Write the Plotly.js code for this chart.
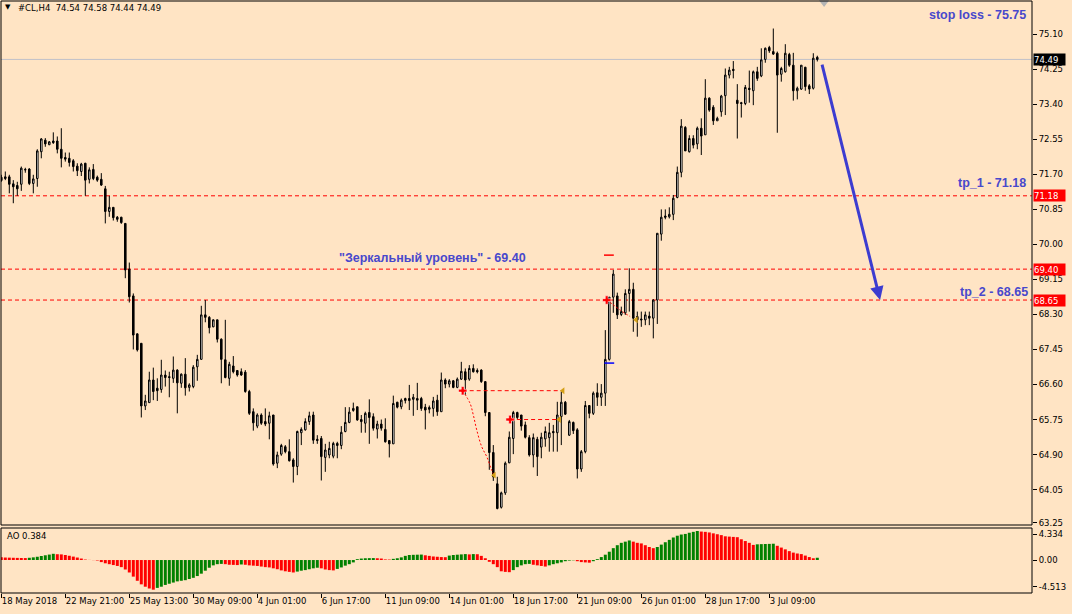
<!DOCTYPE html>
<html><head><meta charset="utf-8">
<script src="https://cdn.plot.ly/plotly-3.0.1.min.js"></script>
<style>html,body{margin:0;padding:0;background:#ffe4c4;}#chart{width:1072px;height:614px;}</style>
</head><body><div id="chart"></div>
<script>
// ---- data (H4 bars of #CL) ----
const openPrices = [71.63,71.64,71.64,71.47,71.43,71.46,71.82,71.83,71.48,71.60,72.25,72.53,72.42,72.51,72.51,72.31,72.11,72.09,72.03,71.90,71.77,71.97,71.58,71.82,71.63,71.58,71.35,70.80,70.90,70.66,70.66,70.51,69.40,68.75,67.83,67.60,66.08,66.16,66.71,66.51,66.48,66.83,66.79,66.75,66.95,66.63,66.85,66.53,66.55,67.03,67.21,68.29,68.23,68.00,68.17,67.70,67.20,66.75,67.05,66.94,66.91,66.90,66.43,65.94,65.59,65.86,65.70,65.66,65.86,64.69,64.91,65.09,64.97,64.77,64.61,65.43,65.50,65.70,65.86,65.27,65.29,64.83,64.89,64.86,65.17,65.12,65.46,65.68,65.97,66.06,65.75,65.66,65.92,65.82,65.52,65.64,65.51,65.24,65.16,66.17,66.06,66.21,66.26,66.24,66.26,66.26,66.05,66.04,66.02,66.22,65.94,66.71,66.61,66.69,66.53,66.73,66.91,66.73,66.99,66.94,66.95,66.67,65.92,64.95,64.19,63.62,63.97,64.70,65.29,65.92,65.86,65.62,65.31,64.89,65.27,65.08,65.28,65.31,65.46,65.43,65.82,66.17,65.37,65.68,65.50,64.55,64.97,66.09,65.90,66.40,66.29,66.39,67.21,68.72,68.75,68.30,68.34,68.81,68.91,68.25,68.19,68.17,68.26,68.21,68.65,70.25,70.69,70.67,70.73,71.14,71.75,72.84,72.25,72.57,72.44,72.82,72.66,73.55,73.33,73.00,73.22,73.61,74.11,74.25,73.50,73.44,73.42,73.79,73.73,74.19,74.09,74.49,74.78,74.68,74.64,74.13,74.19,74.61,74.35,73.73,73.77,74.30,73.85,73.79,74.54];
const highPrices = [71.69,71.77,71.69,71.56,71.52,71.89,71.86,71.85,71.69,72.31,72.58,72.58,72.51,72.72,72.62,72.82,72.23,72.23,72.07,71.97,71.98,71.98,71.87,71.95,71.67,71.73,71.42,71.18,70.90,70.69,70.67,70.51,69.56,68.81,67.84,67.60,66.35,66.91,67.01,66.75,67.20,66.94,66.91,67.28,66.97,66.87,67.24,66.63,67.07,67.32,68.51,68.65,68.26,68.18,68.17,67.72,68.17,67.15,67.29,66.95,66.99,66.95,66.47,66.02,65.90,65.90,66.02,65.94,65.86,64.97,65.16,65.13,65.27,64.81,65.48,65.56,65.78,65.94,65.94,65.37,65.35,65.16,65.21,65.21,65.21,65.59,66.05,66.05,66.16,66.06,65.86,65.94,66.24,65.90,65.72,65.75,65.78,65.24,66.33,66.18,66.26,66.28,66.59,66.37,66.64,66.30,66.13,66.09,66.30,66.35,66.89,66.75,66.73,66.71,66.77,67.15,66.99,67.07,67.09,66.99,66.97,66.67,65.92,65.13,64.36,64.00,64.73,65.46,65.96,65.94,65.86,65.70,65.37,65.41,65.33,65.43,65.58,65.67,65.62,66.18,66.43,66.20,65.74,65.70,65.54,65.01,66.20,66.10,66.43,66.63,66.61,67.92,68.72,69.38,68.83,68.49,68.91,69.42,69.07,68.37,68.37,68.37,68.37,68.67,70.27,70.85,70.85,70.90,71.20,71.89,73.04,72.87,72.65,72.65,72.86,73.06,74.01,73.57,73.38,73.10,73.63,74.27,74.31,74.45,73.89,73.46,73.87,74.22,74.22,74.31,74.76,74.78,74.82,75.24,74.68,74.31,74.86,74.65,74.65,73.83,74.35,74.31,73.89,74.64,74.58];
const lowPrices = [71.52,71.56,71.24,71.00,71.18,71.30,71.74,71.44,71.24,71.40,72.09,72.37,72.41,72.44,72.21,71.87,72.01,71.89,71.77,71.66,71.66,71.18,71.48,71.56,71.52,71.42,70.51,70.67,70.58,70.55,70.50,69.18,68.59,67.45,67.40,65.80,65.98,66.16,66.22,66.20,66.40,66.55,66.29,66.64,65.90,66.52,66.33,66.43,66.51,66.69,67.21,68.11,67.84,67.99,67.62,66.63,66.75,66.57,66.87,66.79,66.81,66.40,65.86,65.48,65.54,65.62,65.59,65.27,64.63,64.57,64.87,64.93,64.73,64.22,64.40,65.13,65.48,65.62,65.16,65.16,64.27,64.48,64.81,64.81,64.81,65.03,65.44,65.66,65.94,65.72,65.43,65.43,65.16,65.48,65.29,65.48,65.19,64.83,65.16,66.02,66.00,66.14,65.98,65.84,65.98,65.96,65.51,65.90,65.82,65.84,65.94,66.51,66.53,66.51,66.51,66.71,66.35,66.69,66.89,66.87,66.64,65.83,64.53,64.26,63.57,63.59,63.92,64.69,64.91,65.75,65.48,65.29,64.85,64.59,64.38,64.81,65.09,64.97,64.97,64.97,65.13,65.86,65.35,65.40,64.32,64.48,64.93,65.78,65.86,66.08,66.08,66.08,67.18,68.34,68.19,68.26,68.29,68.37,67.88,67.76,68.00,68.04,68.04,67.72,68.07,70.09,70.61,70.63,70.59,71.12,71.63,72.27,72.23,72.33,72.31,72.17,72.66,73.22,72.90,73.00,73.10,73.14,74.03,74.03,72.57,73.08,73.38,73.44,73.38,73.97,74.06,74.41,74.65,74.60,72.71,73.95,74.17,74.31,73.49,73.52,73.75,73.73,73.65,73.76,74.44];
const closePrices = [71.55,71.60,71.46,71.40,71.35,71.85,71.81,71.48,71.59,72.27,72.56,72.44,72.49,72.47,72.31,72.09,72.07,71.99,71.89,71.79,71.95,71.56,71.81,71.60,71.56,71.44,70.80,70.90,70.65,70.61,70.53,69.38,68.73,67.80,67.44,66.08,66.20,66.71,66.43,66.45,66.83,66.77,66.77,66.95,66.64,66.85,66.52,66.59,67.02,67.21,68.29,68.23,67.98,68.17,67.70,67.21,66.77,67.09,66.91,66.83,66.83,66.43,65.90,65.67,65.86,65.66,65.64,65.84,64.67,64.89,65.12,64.97,64.75,64.61,65.46,65.51,65.70,65.84,65.25,65.24,64.85,65.01,65.05,65.17,65.12,65.44,65.68,65.93,66.02,65.74,65.70,65.90,65.80,65.54,65.64,65.54,65.21,65.16,66.14,66.05,66.22,66.26,66.21,66.29,66.22,66.02,65.98,66.00,66.20,65.94,66.71,66.61,66.69,66.53,66.73,66.92,66.71,66.99,66.91,66.91,66.67,65.92,64.95,64.36,63.59,63.97,64.69,65.32,65.92,65.80,65.59,65.32,64.89,65.31,64.85,65.32,65.46,65.43,65.43,65.86,66.17,65.88,65.70,65.48,64.55,64.97,66.09,65.90,66.39,66.29,66.39,67.21,68.72,69.28,68.29,68.37,68.81,68.91,68.21,68.17,68.17,68.29,68.21,68.65,70.27,70.66,70.66,70.73,71.12,71.75,72.87,72.27,72.57,72.41,72.82,72.63,73.55,73.26,73.00,73.06,73.60,74.11,74.23,74.22,73.42,73.42,73.81,73.76,74.19,74.03,74.48,74.76,74.70,74.62,74.11,74.27,74.64,74.35,73.73,73.79,74.35,73.83,73.77,74.52,74.49];
const aoValues = [0.45,0.42,0.40,0.38,0.36,0.34,0.33,0.38,0.45,0.55,0.68,0.80,0.92,1.05,0.98,0.95,0.85,0.72,0.58,0.42,0.25,0.08,0.02,-0.02,-0.08,-0.35,-0.55,-0.70,-0.85,-1.00,-1.20,-1.60,-2.10,-2.80,-3.50,-4.10,-4.50,-4.80,-5.00,-4.70,-4.50,-4.20,-4.00,-3.80,-3.60,-3.50,-3.40,-3.20,-3.00,-2.70,-2.30,-1.80,-1.30,-0.90,-0.70,-0.65,-0.70,-0.80,-0.82,-0.85,-0.75,-0.80,-0.90,-0.95,-1.00,-1.10,-1.20,-1.25,-1.40,-1.55,-1.75,-1.90,-2.00,-2.10,-1.95,-1.80,-1.70,-1.55,-1.40,-1.30,-1.40,-1.60,-1.70,-1.75,-1.50,-1.25,-0.95,-0.70,-0.40,0.15,0.25,0.30,0.32,0.33,0.30,0.25,0.10,0.08,0.20,0.30,0.45,0.70,0.85,0.88,0.90,0.92,0.80,0.70,0.60,0.55,0.50,0.48,0.75,0.85,0.90,0.95,1.00,0.95,1.00,0.98,0.70,0.30,-0.30,-0.70,-1.20,-1.90,-2.00,-2.05,-1.70,-1.20,-0.90,-0.70,-0.65,-0.80,-0.90,-1.00,-1.10,-0.90,-0.70,-0.55,-0.40,-0.20,-0.10,-0.05,-0.20,-0.35,-0.40,-0.45,-0.20,0.15,0.50,0.90,1.40,2.00,2.50,2.90,3.10,3.30,3.10,2.90,2.80,2.50,2.20,2.00,2.20,2.60,3.00,3.40,3.80,4.10,4.30,4.40,4.60,4.75,4.90,4.80,4.75,4.65,4.50,4.35,4.20,4.00,3.95,3.90,3.85,3.50,3.20,2.90,2.55,2.65,2.68,2.70,2.72,2.75,2.40,2.10,1.80,1.50,1.25,1.10,1.00,0.75,0.50,0.30,0.384];
const barIndex = openPrices.map((_, i) => i);

const timeTickBars = [0,16,32,48,64,80,96,112,128,144,160,176,192];
const timeTickLabels = ['18 May 2018','22 May 21:00','25 May 13:00','30 May 09:00','4 Jun 01:00','6 Jun 17:00','11 Jun 09:00','14 Jun 01:00','18 Jun 17:00','21 Jun 09:00','26 Jun 01:00','28 Jun 17:00','3 Jul 09:00'];
const priceTicks = [63.25,64.05,64.90,65.75,66.60,67.45,68.30,69.15,70.00,70.85,71.70,72.55,73.40,74.25,75.10];
const aoTicks = [4.334,0,-4.513];
const aoTickLabels = ['4.334','0.00','-4.513'];

const currentPrice = 74.49;
const levelPrices = [71.18, 69.40, 68.65];
const stopLoss = 75.75;
const mirrorLevel = 69.40;
const tp1 = 71.18, tp2 = 68.65;

// pattern drawings (bar index / price)
const patternLineA_x = [115.35, 140.4], patternLineA_y = [66.45, 66.45];
const patternCurveA_x = [115.35,117.2,118.0,118.85,120.1,121.35,122.6,123.2];
const patternCurveA_y = [66.45,66.14,65.86,65.50,65.09,64.85,64.52,64.40];
const patternLineB_x = [127.2, 139.5], patternLineB_y = [65.75, 65.75];
const patternCurveB_x = [151.35,152.8,154.8,157.2];
const patternCurveB_y = [68.65,68.55,68.40,68.25];
const startMarks_x = [115.35,127.2,151.35], startMarks_y = [66.45,65.75,68.65];
const endMarks_x = [140.4,139.5,123.2,158.7], endMarks_y = [66.45,65.75,64.40,68.17];
const arrowFrom = {bar: 205.1, price: 74.40};
const arrowTo = {bar: 219.7, price: 68.65};

// ---- layout geometry ----
const W = 1072, H = 614, mL = 1, mR = 40, mT = 1, mB = 21;
const plotH = H - mT - mB;
const mainBottomPx = 525, aoTopPx = 528;
const mainDomain = [(H - mB - mainBottomPx) / plotH, 1];
const aoDomain = [0, (H - mB - aoTopPx) / plotH];
const pxToPaperY = py => (H - mB - py) / plotH;
const pxToPaperX = px => (px - mL) / (W - mL - mR);

const FONT = 'DejaVu Sans, sans-serif';
const FS = 8.5;
const TXT = {family: 'Liberation Sans, Arial, sans-serif', size: 12.5, color: '#4848cc', weight: 'bold'};

const aoColors = aoValues.map((v, i) => (i > 0 && v > aoValues[i - 1]) ? '#008000' : '#ff0000');

const traces = [
  {type: 'candlestick', x: barIndex, open: openPrices, high: highPrices, low: lowPrices, close: closePrices,
   xaxis: 'x', yaxis: 'y', whiskerwidth: 0, hoverinfo: 'skip', showlegend: false,
   increasing: {line: {color: '#000000', width: 1}, fillcolor: '#ffffff'},
   decreasing: {line: {color: '#000000', width: 1}, fillcolor: '#000000'}},
  {type: 'bar', x: barIndex, y: aoValues, xaxis: 'x', yaxis: 'y2', marker: {color: aoColors, line: {width: 0}},
   hoverinfo: 'skip', showlegend: false},
  {type: 'scatter', mode: 'lines', x: patternLineA_x, y: patternLineA_y, line: {color: '#ff0000', width: 1, dash: '4px,3px'}, hoverinfo: 'skip', showlegend: false},
  {type: 'scatter', mode: 'lines', x: patternLineB_x, y: patternLineB_y, line: {color: '#ff0000', width: 1, dash: '4px,3px'}, hoverinfo: 'skip', showlegend: false},
  {type: 'scatter', mode: 'lines', x: patternCurveA_x, y: patternCurveA_y, line: {color: '#ff0000', width: 1, dash: '2px,2px', shape: 'spline'}, hoverinfo: 'skip', showlegend: false},
  {type: 'scatter', mode: 'lines', x: patternCurveB_x, y: patternCurveB_y, line: {color: '#ff0000', width: 1, dash: '2px,2px', shape: 'spline'}, hoverinfo: 'skip', showlegend: false},
  {type: 'scatter', mode: 'markers', x: startMarks_x, y: startMarks_y, marker: {symbol: 'cross', size: 7, color: '#ff0000', line: {color: '#ffffff', width: 0.5}}, hoverinfo: 'skip', showlegend: false},
  {type: 'scatter', mode: 'markers', x: endMarks_x, y: endMarks_y, marker: {symbol: 'triangle-left', size: 6, color: '#d4a017'}, hoverinfo: 'skip', showlegend: false},
  {type: 'scatter', mode: 'markers', x: [151.9], y: [69.74], marker: {symbol: 'line-ew', size: 7, line: {color: '#ff0000', width: 1.5}}, hoverinfo: 'skip', showlegend: false},
  {type: 'scatter', mode: 'markers', x: [152.0], y: [67.12], marker: {symbol: 'line-ew', size: 7, line: {color: '#0000ff', width: 1.5}}, hoverinfo: 'skip', showlegend: false},
  {type: 'scatter', mode: 'markers', x: [205.7], y: [75.87], marker: {symbol: 'triangle-down', size: 9, color: '#b4b4b4'}, cliponaxis: false, hoverinfo: 'skip', showlegend: false}
];

const shapes = [];
levelPrices.forEach(p => shapes.push({type: 'line', xref: 'paper', x0: 0, x1: 1, yref: 'y', y0: p, y1: p,
  line: {color: '#ff0000', width: 1, dash: '4px,3px'}, layer: 'below'}));
shapes.push({type: 'line', xref: 'paper', x0: 0, x1: 1, yref: 'y', y0: currentPrice, y1: currentPrice,
  line: {color: '#c0c0c8', width: 1}, layer: 'below'});
shapes.push({type: 'rect', xref: 'paper', yref: 'paper', x0: 0, x1: 1, y0: mainDomain[0], y1: 1, line: {color: '#000', width: 1}});
shapes.push({type: 'rect', xref: 'paper', yref: 'paper', x0: 0, x1: 1, y0: 0, y1: aoDomain[1], line: {color: '#000', width: 1}});

const axisBox = (price, bg) => ({xref: 'paper', x: 1, xanchor: 'left', xshift: 1, yref: 'y', y: price, yanchor: 'middle',
  text: price.toFixed(2), showarrow: false, bgcolor: bg, width: 31, height: 11, align: 'left', borderpad: 0,
  font: {family: FONT, size: FS, color: '#ffffff'}});

const annotations = [
  {xref: 'paper', yref: 'paper', x: pxToPaperX(8), y: pxToPaperY(7.5), text: '▼', showarrow: false, xanchor: 'center', yanchor: 'middle', font: {family: FONT, size: 7, color: '#000'}},
  {xref: 'paper', yref: 'paper', x: pxToPaperX(16), y: pxToPaperY(8), text: '#CL,H4\u00a0\u00a074.54 74.58 74.44 74.49', showarrow: false, xanchor: 'left', yanchor: 'middle', font: {family: FONT, size: FS, color: '#000'}},
  {xref: 'paper', yref: 'paper', x: pxToPaperX(5), y: pxToPaperY(536), text: 'AO 0.384', showarrow: false, xanchor: 'left', yanchor: 'middle', font: {family: FONT, size: FS, color: '#000'}},
  {xref: 'paper', x: pxToPaperX(1028), xanchor: 'right', yref: 'y', y: 75.57, yanchor: 'middle', text: 'stop loss - ' + stopLoss.toFixed(2), showarrow: false, font: TXT},
  {xref: 'paper', x: pxToPaperX(1028), xanchor: 'right', yref: 'y', y: 71.49, yanchor: 'middle', text: 'tp_1 - ' + tp1.toFixed(2), showarrow: false, font: TXT},
  {xref: 'paper', x: pxToPaperX(1030), xanchor: 'right', yref: 'y', y: 68.85, yanchor: 'middle', text: 'tp_2 - ' + tp2.toFixed(2), showarrow: false, font: TXT},
  {xref: 'x', x: 107.8, xanchor: 'center', yref: 'y', y: 69.68, yanchor: 'middle', text: '"Зеркальный уровень" - ' + mirrorLevel.toFixed(2), showarrow: false, font: TXT},
  {xref: 'x', yref: 'y', axref: 'x', ayref: 'y', x: arrowTo.bar, y: arrowTo.price, ax: arrowFrom.bar, ay: arrowFrom.price,
   text: '', showarrow: true, arrowhead: 2, arrowsize: 0.9, arrowwidth: 3, arrowcolor: '#3c3cd0'},
  axisBox(currentPrice, '#000000')
];
levelPrices.forEach(p => annotations.push(axisBox(p, '#ff0000')));

const layout = {
  width: W, height: H, margin: {l: mL, r: mR, t: mT, b: mB, pad: 0},
  paper_bgcolor: '#ffe4c4', plot_bgcolor: '#ffe4c4', showlegend: false, hovermode: false,
  font: {family: FONT, size: FS, color: '#000'},
  bargap: 0.25, boxgap: 0.45,
  xaxis: {anchor: 'y2', range: [-0.075, 257.675], rangeslider: {visible: false}, showgrid: false, zeroline: false,
    tickmode: 'array', tickvals: timeTickBars, ticktext: timeTickLabels, ticks: 'outside', ticklen: 4, tickcolor: '#000',
    tickangle: 0, automargin: false,
    ticklabelposition: 'outside right', tickfont: {family: FONT, size: FS, color: '#000'}, showline: false, fixedrange: true},
  yaxis: {domain: mainDomain, side: 'right', range: [63.19, 75.908], showgrid: false, zeroline: false,
    tickmode: 'array', tickvals: priceTicks, ticktext: priceTicks.map(v => v.toFixed(2)), ticks: 'outside', ticklen: 4, tickcolor: '#000',
    tickfont: {family: FONT, size: FS, color: '#000'}, showline: false, fixedrange: true},
  yaxis2: {domain: aoDomain, side: 'right', range: [-5.56, 5.40], showgrid: false, zeroline: false, anchor: 'x',
    tickmode: 'array', tickvals: aoTicks, ticktext: aoTickLabels, ticks: 'outside', ticklen: 4, tickcolor: '#000',
    tickfont: {family: FONT, size: FS, color: '#000'}, showline: false, fixedrange: true},
  shapes: shapes, annotations: annotations
};

Plotly.newPlot('chart', traces, layout, {staticPlot: true, displayModeBar: false});
</script></body></html>
